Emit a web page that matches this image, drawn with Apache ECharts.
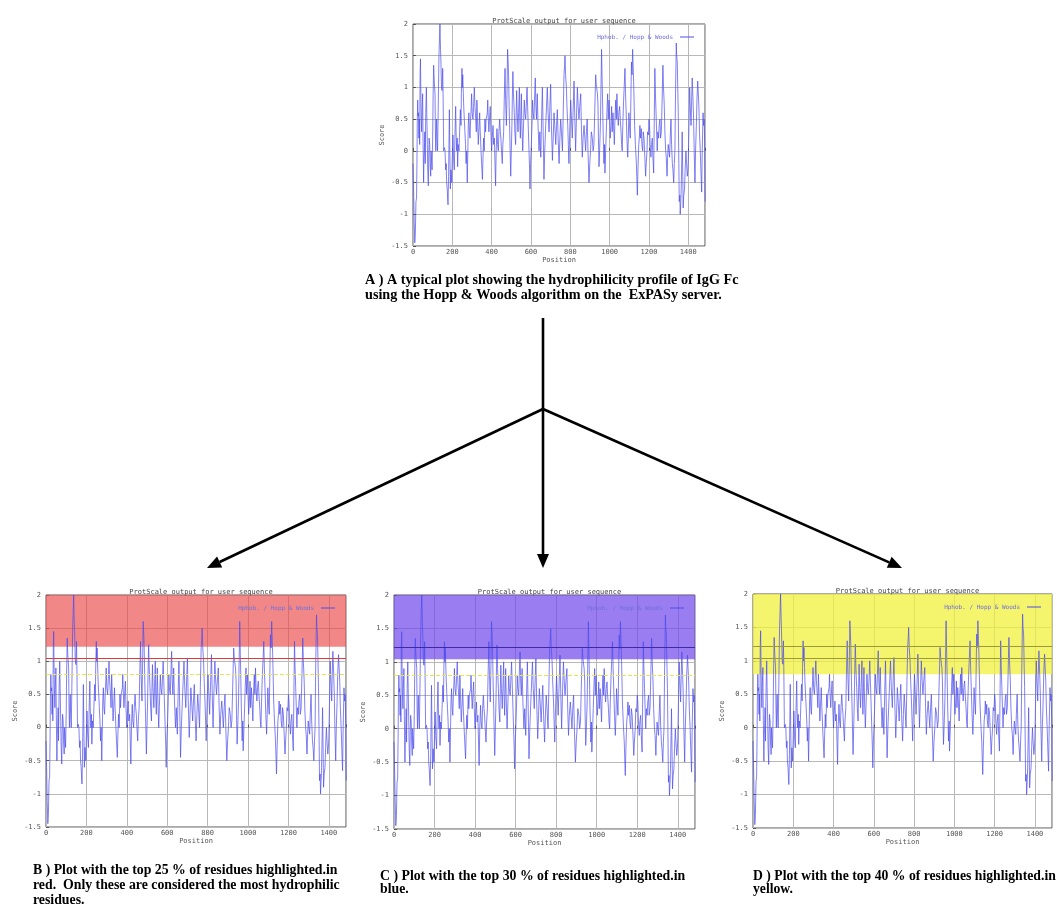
<!DOCTYPE html>
<html><head><meta charset="utf-8">
<script src="https://cdn.jsdelivr.net/npm/echarts@6/dist/echarts.min.js"></script>
<style>html,body{margin:0;padding:0;background:#fff}#c{width:1057px;height:917px}</style>
</head><body><div id="c"></div>
<script>
// Hopp & Woods hydrophilicity profile: [position, score]
const profile = [
[0,-0.2],[3,-0.6],[6,-1.1],[9,-1.45],[12,-1.3],[15,-0.8],[18,-0.75],[20,-0.2],[22,0.5],[24,0.8],[26,0.55],[28,0.6],[30,0.2],[32,0.5],[34,0.1],[36,1.2],[38,1.45],[40,0.9],[42,0.5],[44,0.3],[46,0.6],[49,0.9],[51,0.2],[54,-0.5],[56,-0.1],[58,0.0],[60,0.3],[62,-0.2],[65,0.6],[68,1.0],[70,0.6],[73,0.1],[75,-0.3],[78,-0.55],[80,-0.1],[82,0.2],[85,0.1],[87,-0.2],[90,-0.4],[92,0.0],[95,0.0],[97,-0.3],[100,0.2],[102,0.8],[105,1.35],[108,1.1],[112,0.9],[114,0.3],[116,0.0],[118,0.3],[120,0.5],[122,0.2],[125,0.0],[128,0.6],[132,1.5],[135,1.8],[137,2.0],[140,1.6],[142,1.4],[145,1.0],[148,0.95],[151,1.3],[153,0.9],[156,0.0],
[160,0.05],[163,0.0],[166,-0.3],[169,-0.2],[171,-0.5],[174,-0.6],[178,-0.85],[181,-0.4],[185,0.65],[187,0.1],[190,-0.6],[193,-0.3],[197,-0.5],[200,-0.1],[203,0.25],[206,-0.1],[210,-0.3],[213,0.2],[217,0.7],[219,0.3],[222,0.0],[225,0.2],[227,-0.25],[230,0.1],[234,0.0],[237,0.3],[241,0.65],[244,0.4],[246,0.9],[249,1.3],[251,1.0],[253,1.2],[256,0.9],[258,0.7],[261,0.5],[264,0.3],[267,0.1],[270,-0.2],[273,0.0],[276,-0.5],[279,0.0],[281,0.4],[284,0.6],[287,0.3],[290,0.2],[293,0.5],[296,0.7],[298,0.9],[301,0.6],[305,0.5],[308,0.7],[312,1.0],[315,0.7],[319,0.5],[322,0.3],[325,0.8],[328,0.5],[332,0.1],[335,0.3],[339,0.6],[342,0.3],[346,0.0],[349,-0.2],[353,-0.45],[356,-0.1],[359,0.2],[362,0.0],[366,0.5],[369,0.3],[372,0.5],[375,0.55],[378,0.6],[380,0.8],[383,0.5],[386,0.3],[389,0.5],[393,0.7],[396,0.3],[400,0.0],[403,0.2],[407,0.4],[410,0.1],[414,0.2],[417,-0.2],[420,-0.55],[423,0.0],[427,0.35],[430,0.1],[434,0.0],[437,0.3],[441,0.5],[444,0.3],[447,0.2],[450,0.0],[454,-0.2],[457,0.1],[461,0.3],[464,0.8],[468,1.3],[471,0.8],[475,0.4],[478,0.9],[481,1.6],[484,1.4],[486,1.2],[489,0.7],[492,0.3],[494,0.0],[497,-0.4],[500,0.0],[503,0.4],[505,0.8],[508,1.25],[511,0.9],[515,0.6],[518,0.3],[522,0.1],[524,0.5],[527,0.95],[530,0.6],[534,0.3],[537,0.6],[541,1.0],[543,0.5],[546,0.2],[548,0.5],[551,0.9],[554,0.4],[558,0.0],[561,0.3],[563,0.5],[566,0.8],[569,0.6],[573,0.5],[576,0.7],[580,1.0],[583,0.7],[586,0.4],[590,0.0],[593,-0.3],[595,-0.6],[598,-0.2],[602,0.1],[605,0.4],[608,0.8],[611,0.6],[615,0.5],[618,0.8],[620,1.0],[622,1.15],[625,0.7],[628,0.5],
[632,0.9],[636,0.4],[641,0.0],[645,0.3],[650,-0.1],[654,0.5],[658,1.0],[662,0.3],[666,-0.45],[670,0.0],[675,0.4],[679,0.7],[683,1.0],[687,0.6],[692,0.3],[696,0.7],[700,1.05],[704,0.4],[709,-0.15],[713,0.2],[717,0.6],[721,0.4],[726,0.1],[730,0.4],[734,0.65],[738,0.2],[743,-0.2],[747,0.2],[751,0.5],[755,0.3],[760,0.0],[764,0.6],[768,1.2],[771,1.35],[773,1.5],[776,1.2],[780,1.0],[783,0.7],[787,0.4],[790,0.1],[793,-0.2],[797,0.3],[802,0.8],[806,0.5],[810,0.2],[814,0.6],[819,1.1],[823,0.5],[827,0.0],[831,0.5],[836,1.0],[840,0.7],[844,0.5],[848,0.7],[853,0.9],[857,0.3],[861,-0.1],[865,0.2],[870,0.4],[874,0.2],[878,0.0],[882,0.3],[886,0.5],[890,0.0],[895,-0.5],[899,-0.2],[903,0.0],[907,0.3],[912,0.2],[916,0.0],[920,0.1],[924,0.6],[929,1.2],[932,1.05],[934,1.0],[938,0.9],[941,0.7],[943,0.2],[946,-0.25],[949,0.0],[953,0.4],[956,1.0],[959,1.6],[962,1.1],[964,0.8],[967,0.3],[971,-0.2],[974,0.1],[976,-0.35],[980,0.0],[983,0.3],[986,0.6],[990,0.9],[993,0.5],[997,0.8],[1000,0.5],[1003,0.2],[1007,0.4],[1010,0.7],[1013,0.3],[1017,0.6],[1020,0.4],[1024,0.1],[1027,0.5],[1031,0.8],[1034,0.5],[1037,0.9],[1040,0.6],[1044,0.4],[1047,0.6],[1051,0.7],[1054,0.5],[1058,0.3],[1061,0.1],[1064,0.0],[1067,0.4],[1071,0.8],[1074,1.0],[1078,1.3],[1081,0.9],[1085,0.5],[1088,0.2],[1092,-0.1],[1095,0.2],[1098,0.6],[1101,0.4],[1105,0.2],[1108,0.8],[1111,1.4],[1114,1.2],[1117,1.6],[1120,1.3],[1122,1.1],[1125,0.7],[1127,0.4],[1131,0.1],[1136,-0.2],[1138,-0.4],[1141,-0.7],[1144,-0.3],[1148,0.1],[1151,0.2],[1154,0.4],[1157,0.2],[1161,0.35],[1164,0.1],[1168,0.0],[1171,0.3],[1175,0.2],[1179,-0.1],[1183,-0.4],[1186,-0.2],[1190,0.0],[1193,0.3],[1197,0.25],[1200,0.5],[1203,0.4],[1206,0.1],[1210,-0.1],[1213,0.1],[1217,0.2],[1220,-0.1],[1224,-0.35],[1227,0.5],[1230,1.3],[1233,0.9],[1236,0.6],[1239,0.3],[1242,0.0],[1245,0.3],[1249,0.2],[1252,0.4],[1256,0.5],[1259,0.2],[1263,0.3],[1267,0.8],[1271,1.35],[1274,1.0],[1278,0.7],[1281,0.3],[1285,0.0],[1288,-0.1],[1292,-0.4],[1295,-0.1],[1298,0.1],[1301,0.0],[1305,-0.1],[1308,0.2],[1312,0.5],[1315,0.1],[1319,-0.2],[1322,-0.3],[1326,-0.5],[1329,-0.2],[1332,0.0],[1335,0.9],[1339,1.7],[1341,1.5],[1344,1.4],[1347,0.9],[1349,0.6],[1352,-0.2],[1354,-0.8],[1357,-0.7],[1359,-1.0],[1362,-0.8],[1364,-0.6],[1367,-0.1],[1369,0.3],[1372,-0.4],[1374,-0.9],[1377,-0.7],[1381,-0.6],[1384,-0.3],[1388,0.0],[1391,-0.2],[1395,-0.4],[1398,-0.3],[1400,-0.15],[1404,0.5],[1407,1.0],[1410,0.7],[1414,0.4],[1417,0.8],[1420,1.15],[1424,0.8],[1427,0.5],[1430,0.0],[1434,-0.5],[1437,0.0],[1441,0.4],[1444,0.8],[1448,1.1],[1451,0.9],[1454,0.7],[1457,0.3],[1461,0.0],[1464,-0.3],[1468,-0.65],[1471,0.0],[1475,0.6],[1478,0.4],[1481,0.5],[1484,0.0],[1486,-0.8]
];
const yTicks = [-1.5,-1,-0.5,0,0.5,1,1.5,2];
const xTicks = [0,200,400,600,800,1000,1200,1400];
const thresholds = {top25: 1.22, top30: 1.04, top40: 0.8};
const plotTitle = 'ProtScale output for user sequence';
const legendName = 'Hphob. / Hopp & Woods';
const captions = [
  'A ) A typical plot showing the hydrophilicity profile of IgG Fc\nusing the Hopp & Woods algorithm on the  ExPASy server.',
  'B ) Plot with the top 25 % of residues highlighted.in\nred.  Only these are considered the most hydrophilic\nresidues.',
  'C ) Plot with the top 30 % of residues highlighted.in\nblue.',
  'D ) Plot with the top 40 % of residues highlighted.in\nyellow.'
];

const chart = echarts.init(document.getElementById('c'));
const grids = [
  {left: 413, top: 24, width: 292, height: 222},
  {left: 46, top: 595, width: 300, height: 232},
  {left: 394, top: 595, width: 301, height: 234},
  {left: 753, top: 594, width: 299, height: 234}
];
const mono = 'DejaVu Sans Mono';
const small = {fontSize: 7, color: '#555', fontFamily: mono};

const bands = [
  null,
  {from: thresholds.top25, color: 'rgb(235,70,70)', opacity: 0.65,
   lines: [{y: thresholds.top30, color: '#e03a3a'}, {y: thresholds.top40, color: '#e6e650', type: 'dashed'}]},
  {from: thresholds.top30, color: 'rgb(110,70,235)', opacity: 0.7,
   lines: [{y: thresholds.top25, color: '#3e2aa8'}, {y: thresholds.top40, color: '#e6e650', type: 'dashed'}]},
  {from: thresholds.top40, color: 'rgb(240,240,60)', opacity: 0.75,
   lines: [{y: thresholds.top25, color: '#9a9a3a'}, {y: thresholds.top30, color: '#9a9a3a'}]}
];

const xAxes = [], yAxes = [], series = [], titles = [], legends = [];
grids.forEach((g, i) => {
  xAxes.push({gridIndex: i, type: 'value', min: 0, max: 1485, interval: 200,
    name: 'Position', nameLocation: 'middle', nameGap: 9, nameTextStyle: small,
    axisLine: {show: false}, axisTick: {inside: true, length: 3, lineStyle: {color: '#555'}},
    axisLabel: Object.assign({margin: 3, formatter: v => xTicks.indexOf(v) >= 0 ? String(v) : ''}, small),
    splitLine: {show: true, lineStyle: {color: '#b8b8b8', width: 1}}});
  yAxes.push({gridIndex: i, type: 'value', min: -1.5, max: 2, interval: 0.5,
    name: 'Score', nameLocation: 'middle', nameGap: 27, nameRotate: 90, nameTextStyle: small,
    axisLine: {show: false}, axisTick: {inside: true, length: 3, lineStyle: {color: '#555'}},
    axisLabel: Object.assign({margin: 5, formatter: v => yTicks.indexOf(v) >= 0 ? String(v) : ''}, small),
    splitLine: {show: true, lineStyle: {color: '#b8b8b8', width: 1}}});
  series.push({type: 'line', name: legendName, xAxisIndex: i, yAxisIndex: i, data: profile,
    showSymbol: false, symbol: 'none', z: 2, animation: false,
    lineStyle: {color: '#4c4cec', width: 0.7}, itemStyle: {color: '#4c4cec'}});
  const b = bands[i];
  if (b) {
    series.push({type: 'line', name: 'band' + i, xAxisIndex: i, yAxisIndex: i, data: profile,
      showSymbol: false, symbol: 'none', z: 5, animation: false, silent: true,
      lineStyle: {opacity: 0}, itemStyle: {opacity: 0},
      markArea: {silent: true, itemStyle: {color: b.color, opacity: b.opacity},
        data: [[{yAxis: b.from}, {yAxis: 2}]]},
      markLine: {silent: true, symbol: 'none', label: {show: false}, animation: false,
        data: b.lines.map(l => ({yAxis: l.y, lineStyle: {color: l.color, width: 1, type: l.type || 'solid'}}))}
    });
  }
  titles.push({text: plotTitle, left: g.left + g.width / 2, top: g.top - 11, textAlign: 'center',
    textStyle: {fontSize: 7, color: '#444', fontWeight: 'normal', fontFamily: mono}});
  legends.push({data: [legendName], right: 1057 - (g.left + g.width) + 6, top: g.top + 5,
    orient: 'horizontal', align: 'right', itemWidth: 14, itemHeight: 1, icon: 'rect',
    selectedMode: false, itemGap: 4,
    textStyle: {fontSize: 6, color: '#7070dc', fontFamily: mono, padding: [0, 2, 0, 0]}});
});

// arrows
const lineStyle = {stroke: '#000', lineWidth: 2.6};
const graphics = [];
const joint = [543, 409];
graphics.push({type: 'line', shape: {x1: 543, y1: 318, x2: joint[0], y2: joint[1]}, style: lineStyle});
[[207, 568], [543, 568], [902, 568]].forEach(t => {
  const dx = t[0] - joint[0], dy = t[1] - joint[1];
  const L = Math.hypot(dx, dy), ux = dx / L, uy = dy / L;
  const hl = 14, hw = 6;
  const bx = t[0] - hl * ux, by = t[1] - hl * uy;
  graphics.push({type: 'line', shape: {x1: joint[0], y1: joint[1], x2: bx, y2: by}, style: lineStyle});
  graphics.push({type: 'polygon', shape: {points: [[t[0], t[1]], [bx - hw * uy, by + hw * ux], [bx + hw * uy, by - hw * ux]]},
    style: {fill: '#000'}});
});
const capPos = [[365, 273, 15, 14.2], [33, 863, 15, 13.8], [380, 869, 13, 13.8], [753, 869, 13, 13.7]];
captions.forEach((c, i) => {
  graphics.push({type: 'text', left: capPos[i][0], top: capPos[i][1],
    style: {text: c, font: 'bold ' + capPos[i][3] + 'px "Liberation Serif"', fill: '#000', lineHeight: capPos[i][2]}});
});

chart.setOption({
  animation: false,
  backgroundColor: '#fff',
  grid: grids.map(g => Object.assign({show: true, borderColor: '#555', borderWidth: 1, backgroundColor: '#fff', containLabel: false}, g)),
  xAxis: xAxes, yAxis: yAxes, series: series, title: titles, legend: legends, graphic: graphics
});
</script></body></html>
